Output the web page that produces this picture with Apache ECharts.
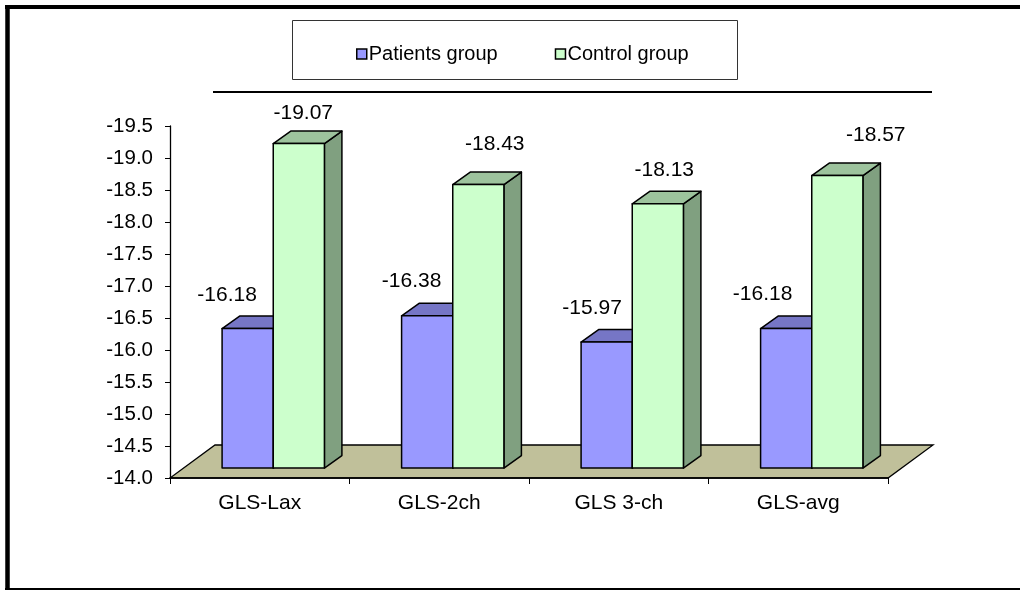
<!DOCTYPE html>
<html>
<head>
<meta charset="utf-8">
<title>GLS comparison</title>
<script src="https://cdn.jsdelivr.net/npm/echarts@6/dist/echarts.min.js"></script>
<style>
  html, body { margin: 0; padding: 0; background: #ffffff; }
  #chart { width: 1020px; height: 590px; }
</style>
</head>
<body>
<div id="chart"></div>
<script>
// ---- data ----
const categories = ['GLS-Lax', 'GLS-2ch', 'GLS 3-ch', 'GLS-avg'];
const seriesNames = ['Patients group', 'Control group'];
const patientsValues = [-16.18, -16.38, -15.97, -16.18];
const controlValues = [-19.07, -18.43, -18.13, -18.57];
const yTickMin = -19.5;
const yTickMax = -14.0;
const yTickStep = 0.5;

// ---- look ----
const FONT = '"Liberation Sans", Arial, sans-serif';
const FLOOR_DEPTH = [45, -33];      // depth of the floor plate (px)
const BAR_DEPTH = [17.5, -12.5];    // depth of each bar block (px)
const BAR_INSET = 0.3;              // bars stand this far back on the floor
const BAR_WIDTH_RATIO = 0.285;      // front face width as share of a category band
const labelNudgeX = [[5, 10, 11, 2], [30, 42, 32, 64]];
const labelNudgeY = [[-33, -35, -34, -34], [-30, -40, -34, -40]];

const palette = [
  { front: '#9999FF', top: '#7676C6', side: '#6E6EB8' },
  { front: '#CCFFCC', top: '#9DC39D', side: '#80A080' }
];

const chart = echarts.init(document.getElementById('chart'), null, { renderer: 'canvas' });

// khaki floor plate under the category axis
function floorRender(params, api) {
  const band = api.size([1, 0])[0];
  const a = api.coord([0, yTickMax]);
  const b = api.coord([categories.length - 1, yTickMax]);
  const x0 = a[0] - band / 2, x1 = b[0] + band / 2, y = a[1];
  const [dx, dy] = FLOOR_DEPTH;
  return {
    type: 'polygon',
    shape: { points: [[x0, y], [x1, y], [x1 + dx, y + dy], [x0 + dx, y + dy]] },
    style: { fill: '#C0C09A', stroke: '#000', lineWidth: 1.3 }
  };
}

// a box-shaped bar: side face, top face, front face and its value label
function makeBarRender(sIdx) {
  return function (params, api) {
    const ci = api.value(0);
    const v = api.value(1);
    const band = api.size([1, 0])[0];
    const w = band * BAR_WIDTH_RATIO;
    const base = api.coord([ci, yTickMax]);
    const topPt = api.coord([ci, v]);
    const ox = FLOOR_DEPTH[0] * BAR_INSET, oy = FLOOR_DEPTH[1] * BAR_INSET;
    const left = base[0] + ox + (sIdx === 0 ? -w : 0);
    const right = left + w;
    const yb = base[1] + oy;
    const yt = topPt[1] + oy;
    const [dx, dy] = BAR_DEPTH;
    const c = palette[sIdx];
    const edge = { stroke: '#000', lineWidth: 1.5, lineJoin: 'round' };
    return {
      type: 'group',
      children: [
        { type: 'polygon', shape: { points: [[right, yb], [right + dx, yb + dy], [right + dx, yt + dy], [right, yt]] },
          style: Object.assign({ fill: c.side }, edge) },
        { type: 'polygon', shape: { points: [[left, yt], [right, yt], [right + dx, yt + dy], [left + dx, yt + dy]] },
          style: Object.assign({ fill: c.top }, edge) },
        { type: 'rect', shape: { x: left, y: yt, width: w, height: yb - yt },
          style: Object.assign({ fill: c.front }, edge) },
        { type: 'text', x: left + labelNudgeX[sIdx][ci], y: yt + labelNudgeY[sIdx][ci],
          style: { text: v.toFixed(2), fill: '#000', font: '21px ' + FONT, align: 'center', verticalAlign: 'middle' } }
      ]
    };
  };
}

const option = {
  backgroundColor: '#ffffff',
  animation: false,
  textStyle: { fontFamily: FONT },
  grid: { left: 170, right: 132, top: 126, bottom: 112, containLabel: false },
  legend: {
    data: seriesNames.map((n, i) => ({ name: n, itemStyle: { color: palette[i].front, borderColor: '#000', borderWidth: 1.5 } })),
    left: 351, top: 39,
    icon: 'rect', itemWidth: 10, itemHeight: 10, itemGap: 57,
    textStyle: { fontFamily: FONT, fontSize: 20, color: '#000', padding: [0, 0, 0, -3] },
    selectedMode: false
  },
  xAxis: {
    type: 'category',
    data: categories,
    boundaryGap: true,
    axisLine: { show: true, lineStyle: { color: '#000', width: 1.5 } },
    axisTick: { show: true, length: 6, inside: false, lineStyle: { color: '#000', width: 1 } },
    axisLabel: { color: '#000', fontSize: 21, fontFamily: FONT, margin: 15 },
    splitLine: { show: false },
    z: 3
  },
  yAxis: {
    type: 'value',
    inverse: true,
    min: yTickMin,
    max: yTickMax,
    interval: yTickStep,
    axisLine: { show: true, lineStyle: { color: '#000', width: 1.3 } },
    axisTick: { show: true, length: 5, lineStyle: { color: '#000', width: 1 } },
    axisLabel: { color: '#000', fontSize: 20.5, fontFamily: FONT, margin: 17, formatter: v => v.toFixed(1) },
    splitLine: { show: false }
  },
  graphic: [
    // outer frame
    { type: 'line', shape: { x1: 5, y1: 7, x2: 1020, y2: 7 }, style: { stroke: '#000', lineWidth: 4 }, silent: true },
    { type: 'line', shape: { x1: 7.5, y1: 5, x2: 7.5, y2: 590 }, style: { stroke: '#000', lineWidth: 4.5 }, silent: true },
    { type: 'line', shape: { x1: 5, y1: 589, x2: 1020, y2: 589 }, style: { stroke: '#000', lineWidth: 2 }, silent: true },
    // legend box and rule under it
    { type: 'rect', shape: { x: 292.5, y: 20.5, width: 445, height: 59 }, style: { fill: '#fff', stroke: '#333', lineWidth: 1 }, z: -1, silent: true },
    { type: 'line', shape: { x1: 213, y1: 92, x2: 932, y2: 92 }, style: { stroke: '#000', lineWidth: 2 }, silent: true }
  ],
  series: [
    {
      name: '__floor', type: 'custom', renderItem: floorRender, data: [[0, yTickMax]], z: 1, silent: true
    },
    {
      name: seriesNames[0], type: 'custom', renderItem: makeBarRender(0),
      itemStyle: { color: palette[0].front },
      data: patientsValues.map((v, i) => [i, v]), z: 4, encode: { x: 0, y: 1 }
    },
    {
      name: seriesNames[1], type: 'custom', renderItem: makeBarRender(1),
      itemStyle: { color: palette[1].front },
      data: controlValues.map((v, i) => [i, v]), z: 5, encode: { x: 0, y: 1 }
    }
  ]
};

chart.setOption(option);
</script>
</body>
</html>
